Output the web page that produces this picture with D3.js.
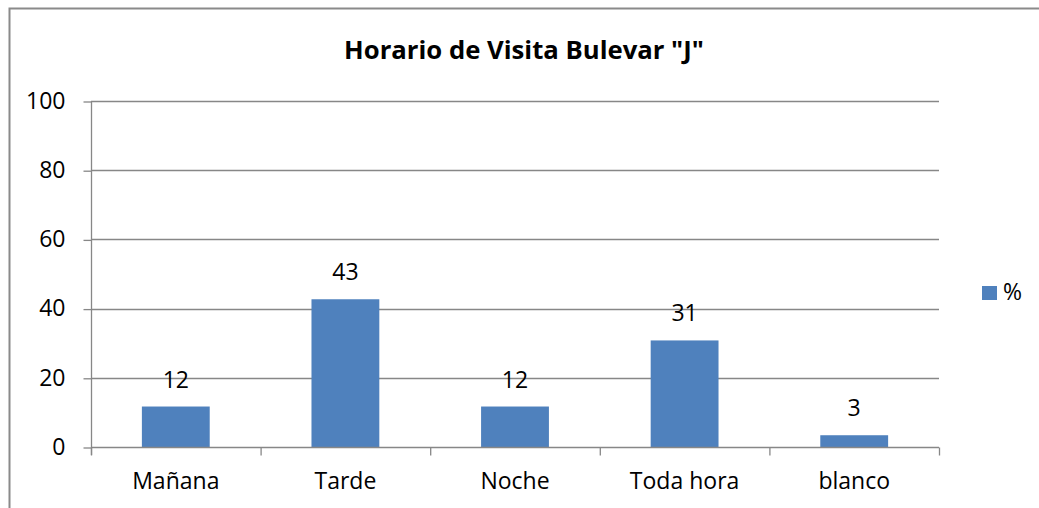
<!DOCTYPE html>
<html>
<head>
<meta charset="utf-8">
<script src="https://cdn.jsdelivr.net/npm/d3@7"></script>
<style>
  body { margin: 0; background: #fff; }
  svg { display: block; font-family: "Open Sans", sans-serif; }
</style>
</head>
<body>
<svg></svg>
<script>
// Data
const categories = ["Mañana", "Tarde", "Noche", "Toda hora", "blanco"];
const values = [11.7, 42.7, 11.7, 30.8, 3.4];
const valueLabels = ["12", "43", "12", "31", "3"];
const yTicks = [0, 20, 40, 60, 80, 100];
const seriesName = "%";

const width = 1039;
const height = 508;
const margin = { top: 101, right: 100, bottom: 61, left: 91 };
const barColor = "#4F81BD";
const lineColor = "#878787";
const fontSize = "23px";

const svg = d3.select("svg")
    .attr("width", width)
    .attr("height", height);

// outer chart border (only top / left visible in frame)
svg.append("rect")
    .attr("x", 9.5)
    .attr("y", 8.5)
    .attr("width", width + 20)
    .attr("height", height + 20)
    .attr("fill", "none")
    .attr("stroke", "#8a8a8a")
    .attr("stroke-width", 2);

const x = d3.scaleBand()
    .domain(categories)
    .range([margin.left, 939])
    .paddingInner(0.6)
    .paddingOuter(0.3);

const xEdge = d3.scaleLinear()
    .domain([0, categories.length])
    .range([margin.left, 939]);

const y = d3.scaleLinear()
    .domain([0, 100])
    .range([447, margin.top]);

// gridlines
svg.append("g")
    .selectAll("line")
    .data(yTicks.filter(d => d > 0))
    .join("line")
    .attr("x1", margin.left)
    .attr("x2", 939)
    .attr("y1", d => Math.round(y(d)) + 0.5)
    .attr("y2", d => Math.round(y(d)) + 0.5)
    .attr("stroke", lineColor)
    .attr("stroke-width", 1.3);

// y axis
const yAxis = svg.append("g")
    .attr("transform", `translate(${margin.left + 0.5},0)`)
    .call(d3.axisLeft(y).tickValues(yTicks).tickSize(8).tickPadding(18))
    .call(g => g.select(".domain").remove());
yAxis.selectAll(".tick line").attr("stroke", lineColor).attr("stroke-width", 1.3)
    .attr("transform", "translate(0,0.5)");
yAxis.selectAll(".tick text")
    .attr("fill", "#000")
    .style("font-size", fontSize)
    .style("font-family", "Open Sans, sans-serif");
svg.append("line")
    .attr("x1", margin.left + 0.5).attr("x2", margin.left + 0.5)
    .attr("y1", y(100)).attr("y2", y(0) + 8)
    .attr("stroke", lineColor).attr("stroke-width", 1.3);

// bars
svg.append("g")
    .selectAll("rect")
    .data(values)
    .join("rect")
    .attr("x", (d, i) => x(categories[i]))
    .attr("y", d => y(d))
    .attr("width", x.bandwidth())
    .attr("height", d => y(0) - y(d))
    .attr("fill", barColor);

// x axis
const xAxis = svg.append("g")
    .attr("transform", `translate(0,${Math.round(y(0)) + 0.5})`)
    .call(d3.axisBottom(xEdge).tickValues(d3.range(categories.length + 1)).tickSize(8).tickFormat(""))
    .call(g => g.select(".domain").attr("stroke", lineColor).attr("stroke-width", 1.3).attr("d", `M${margin.left},0H939`));
xAxis.selectAll(".tick line").attr("stroke", lineColor).attr("stroke-width", 1.3);

svg.append("g")
    .selectAll("text")
    .data(categories)
    .join("text")
    .attr("x", d => x(d) + x.bandwidth() / 2)
    .attr("y", 489)
    .attr("text-anchor", "middle")
    .style("font-size", fontSize)
    .text(d => d);

// value labels
svg.append("g")
    .selectAll("text")
    .data(values)
    .join("text")
    .attr("x", (d, i) => x(categories[i]) + x.bandwidth() / 2)
    .attr("y", d => y(d) - 19)
    .attr("text-anchor", "middle")
    .style("font-size", fontSize)
    .text((d, i) => valueLabels[i]);

// title
svg.append("text")
    .attr("x", 524)
    .attr("y", 59)
    .attr("text-anchor", "middle")
    .style("font-size", "25.7px")
    .style("font-weight", "bold")
    .text('Horario de Visita Bulevar "J"');

// legend
const legend = svg.append("g").attr("transform", "translate(982,286)");
legend.append("rect")
    .attr("width", 15)
    .attr("height", 14)
    .attr("fill", barColor);
legend.append("text")
    .attr("x", 21)
    .attr("y", 14)
    .style("font-size", fontSize)
    .text(seriesName);
</script>
</body>
</html>
